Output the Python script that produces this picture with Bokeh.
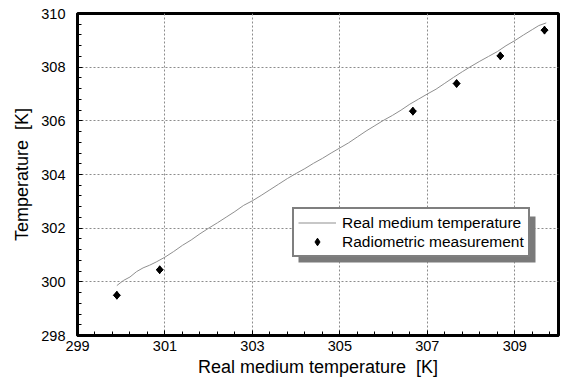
import math
from bokeh.plotting import figure
from bokeh.models import FixedTicker, Range1d, Legend, LegendItem, BoxAnnotation
from bokeh.embed import file_html
from bokeh.resources import INLINE

# Real medium temperature (continuous trace)
line_x = [299.90, 300.05, 300.20, 300.35, 300.50, 300.65, 300.80, 301.00, 301.20, 301.40,
          301.60, 301.80, 302.00, 302.20, 302.40, 302.60, 302.80, 303.00, 303.20, 303.40,
          303.60, 303.80, 304.00, 304.20, 304.40, 304.60, 304.80, 305.00, 305.20, 305.40,
          305.60, 305.80, 306.00, 306.20, 306.40, 306.60, 306.80, 307.00, 307.20, 307.40,
          307.60, 307.80, 308.00, 308.20, 308.40, 308.60, 308.80, 309.00, 309.20, 309.40,
          309.55, 309.72]
line_y = [299.86, 300.05, 300.18, 300.38, 300.52, 300.62, 300.74, 300.92, 301.13, 301.36,
          301.56, 301.79, 302.00, 302.20, 302.41, 302.62, 302.85, 303.02, 303.22, 303.43,
          303.64, 303.85, 304.04, 304.22, 304.42, 304.60, 304.80, 304.99, 305.18, 305.40,
          305.62, 305.82, 306.02, 306.20, 306.40, 306.62, 306.81, 307.00, 307.18, 307.40,
          307.62, 307.83, 308.03, 308.22, 308.40, 308.58, 308.80, 308.99, 309.20, 309.40,
          309.55, 309.65]

# Radiometric measurement
meas_x = [299.90, 300.88, 306.67, 307.67, 308.67, 309.68]
meas_y = [299.50, 300.45, 306.36, 307.39, 308.42, 309.38]

x_ticks = [299, 301, 303, 305, 307, 309]
y_ticks = [298, 300, 302, 304, 306, 308, 310]
x_minor = [round(299 + 0.4 * i, 1) for i in range(28)]
y_minor = [round(298 + 0.4 * i, 1) for i in range(31)]

FONT = "Liberation Sans"

p = figure(width=564, height=381, output_backend="svg", toolbar_location=None,
           x_range=Range1d(299, 310), y_range=Range1d(298, 310),
           min_border_left=77, min_border_right=6, min_border_top=13, min_border_bottom=46)
p.background_fill_color = "white"
p.border_fill_color = "white"
p.outline_line_color = "black"
p.outline_line_width = 3

p.xaxis.ticker = FixedTicker(ticks=x_ticks, minor_ticks=x_minor)
p.yaxis.ticker = FixedTicker(ticks=y_ticks, minor_ticks=y_minor)

for ax in (p.xaxis[0], p.yaxis[0]):
    ax.axis_line_width = 3
    ax.axis_line_color = "black"
    ax.major_tick_in = 5
    ax.major_tick_out = 0
    ax.minor_tick_in = 4
    ax.minor_tick_out = 0
    ax.major_tick_line_color = "black"
    ax.minor_tick_line_color = "black"
    ax.major_label_text_font = FONT
    ax.major_label_text_font_size = "14.5px"
    ax.major_label_text_color = "black"
    ax.axis_label_text_font = FONT
    ax.axis_label_text_font_size = "18px"
    ax.axis_label_text_font_style = "normal"
    ax.axis_label_text_color = "black"

p.xaxis.axis_label = "Real medium temperature\u00a0 [K]"
p.yaxis.axis_label = "Temperature\u00a0 [K]"
p.xaxis.major_label_standoff = 5
p.xaxis.axis_label_standoff = 3
p.yaxis.major_label_standoff = 12
p.yaxis.axis_label_standoff = 6

for g in (p.xgrid[0], p.ygrid[0]):
    g.grid_line_color = "#8c8c8c"
    g.grid_line_dash = "2 2"
    g.grid_line_width = 1

r_line = p.line(line_x, line_y, line_color="#8f8f8f", line_width=1)
# diamond symbol (also used by the legend), covered by a rotated square of the same centre
r_pts = p.scatter(meas_x, meas_y, marker="diamond", size=8,
                  fill_color="black", line_color="black")
p.scatter(meas_x, meas_y, marker="square", size=5, angle=math.pi / 4,
          fill_color="black", line_color="black", line_width=1)

# legend shadow (screen units, relative to the plot frame)
shadow = BoxAnnotation(left=221, right=458, top=119, bottom=73,
                       left_units="screen", right_units="screen",
                       top_units="screen", bottom_units="screen",
                       fill_color="#7a7a7a", fill_alpha=1.0, line_color=None, level="overlay")
p.add_layout(shadow)

legend = Legend(items=[LegendItem(label="Real medium temperature", renderers=[r_line]),
                       LegendItem(label="Radiometric measurement", renderers=[r_pts])],
                location=(215, 78))
legend.label_text_font = FONT
legend.label_text_font_size = "15.5px"
legend.label_text_color = "black"
legend.border_line_color = "black"
legend.border_line_width = 2
legend.background_fill_color = "white"
legend.background_fill_alpha = 1.0
legend.padding = 4
legend.margin = 0
legend.spacing = 0
legend.glyph_width = 38
legend.glyph_height = 19
legend.label_height = 19
legend.label_standoff = 6
p.add_layout(legend)

open("out.html", "w").write(file_html(p, INLINE))
